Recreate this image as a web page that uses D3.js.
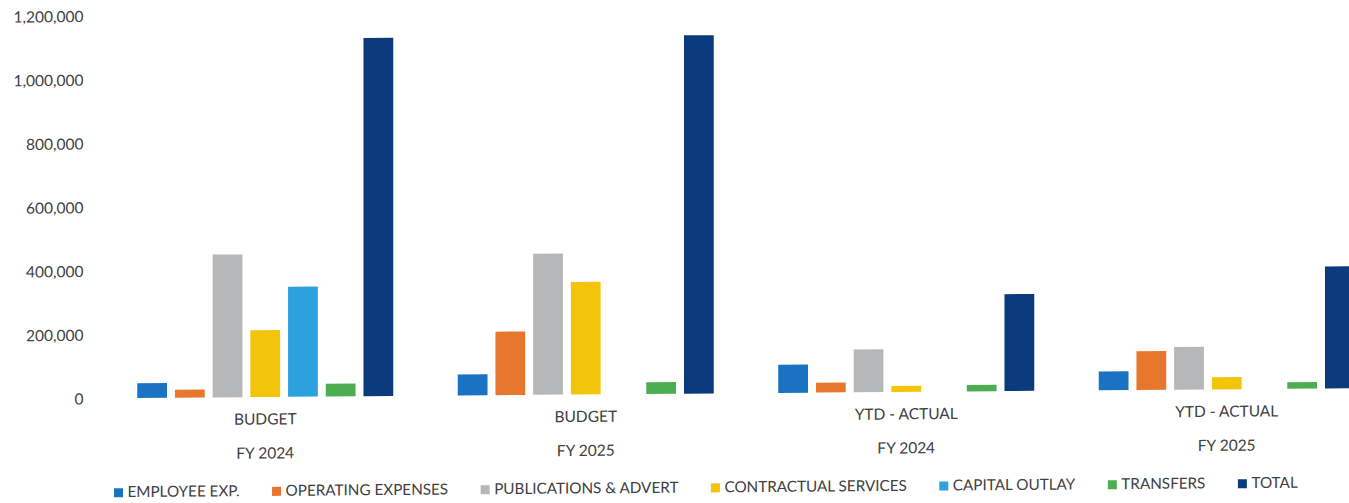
<!DOCTYPE html>
<html>
<head>
<meta charset="utf-8">
<script src="https://cdn.jsdelivr.net/npm/d3@7"></script>
<style>
  body { margin: 0; background: #fff; }
  svg { display: block; }
  text { font-family: Lato, "Open Sans", sans-serif; font-size: 15.5px; fill: #404040; }
  .legend text { font-size: 15.25px; }
</style>
</head>
<body>
<svg id="chart" width="1349" height="503"></svg>
<script>
// Budget vs. year-to-date actual spending, by expense type
const periodLabels = ["BUDGET", "BUDGET", "YTD - ACTUAL", "YTD - ACTUAL"];
const yearLabels = ["FY 2024", "FY 2025", "FY 2024", "FY 2025"];

const seriesNames = [
  "EMPLOYEE EXP.", "OPERATING EXPENSES", "PUBLICATIONS & ADVERT",
  "CONTRACTUAL SERVICES", "CAPITAL OUTLAY", "TRANSFERS", "TOTAL"
];
const seriesColors = ["#1a73c2", "#e8772e", "#b5b7b9", "#f2c40a", "#2ba2dd", "#4cae50", "#0b3b7c"];

const employeeExp         = [46000, 66000, 88000, 59000];
const operatingExpenses   = [25000, 199000, 31000, 122000];
const publicationsAdvert  = [448000, 443000, 134000, 134000];
const contractualServices = [210000, 353000, 19000, 38000];
const capitalOutlay       = [345000, 0, 0, 0];
const transfers           = [40000, 37000, 20000, 21000];
const total               = [1124000, 1124000, 304000, 383000];

const yTicks = [0, 200000, 400000, 600000, 800000, 1000000, 1200000];

const seriesValues = [employeeExp, operatingExpenses, publicationsAdvert,
  contractualServices, capitalOutlay, transfers, total];

const svg = d3.select("#chart");

// the whole drawing sits on a very slight slant
const slant = -0.008;
const root = svg.append("g")
  .attr("transform", `matrix(1, ${slant}, 0, 1, 0, ${-slant * 265})`);

const groupIdx = d3.range(periodLabels.length);
const x0 = d3.scaleBand().domain(groupIdx).range([105, 1387]).paddingInner(0).paddingOuter(0);
const x1 = d3.scaleBand().domain(d3.range(seriesNames.length))
  .range([0, x0.bandwidth()]).paddingInner(0.21).paddingOuter(0.855);
const y = d3.scaleLinear().domain([0, 1200000]).range([397, 14.5]);

// value axis labels (no line, no ticks)
const yAxis = d3.axisLeft(y).tickValues(yTicks).tickFormat(d3.format(",")).tickSize(0).tickPadding(0);
const yg = root.append("g").attr("transform", "translate(83.5,0)").call(yAxis);
yg.select(".domain").remove();
yg.selectAll("text").attr("font-family", null).attr("font-size", null)
  .attr("fill", null).attr("dy", "0.36em");

// bars
const groups = root.append("g").selectAll("g")
  .data(groupIdx).join("g")
  .attr("transform", i => `translate(${x0(i)},0)`);

groups.selectAll("rect")
  .data(i => seriesValues.map((vals, s) => ({ s, v: vals[i] })))
  .join("rect")
  .attr("x", d => x1(d.s))
  .attr("width", x1.bandwidth())
  .attr("y", d => y(d.v))
  .attr("height", d => y(0) - y(d.v))
  .attr("fill", d => seriesColors[d.s]);

// two-level category labels
const cat = root.append("g");
cat.selectAll("text.period").data(groupIdx).join("text")
  .attr("class", "period")
  .attr("x", i => x0(i) + x0.bandwidth() / 2)
  .attr("y", 424.5)
  .attr("text-anchor", "middle")
  .text(i => periodLabels[i]);
cat.selectAll("text.year").data(groupIdx).join("text")
  .attr("class", "year")
  .attr("x", i => x0(i) + x0.bandwidth() / 2)
  .attr("y", 458.5)
  .attr("text-anchor", "middle")
  .text(i => yearLabels[i]);

// legend, laid out left to right
const legend = root.append("g").attr("class", "legend");
const swatch = 9, swatchGap = 4.5, itemGap = 32.5, legendBase = 496;
let lx = 114;
seriesNames.forEach((name, s) => {
  legend.append("rect")
    .attr("x", lx).attr("y", legendBase - swatch)
    .attr("width", swatch).attr("height", swatch)
    .attr("fill", seriesColors[s]);
  const t = legend.append("text")
    .attr("x", lx + swatch + swatchGap)
    .attr("y", legendBase)
    .text(name);
  lx += swatch + swatchGap + t.node().getComputedTextLength() + itemGap;
});
</script>
</body>
</html>
